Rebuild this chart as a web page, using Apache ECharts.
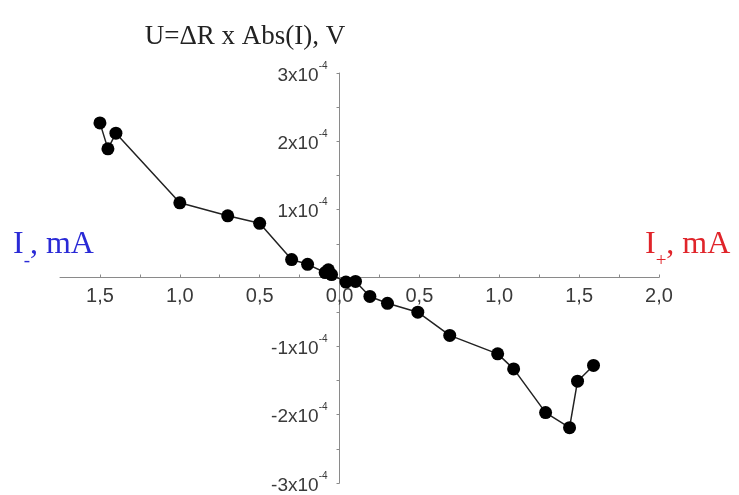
<!DOCTYPE html>
<html>
<head>
<meta charset="utf-8">
<script src="https://cdn.jsdelivr.net/npm/echarts@6/dist/echarts.min.js"></script>
<style>
  html, body { margin: 0; padding: 0; background: #fff; }
  #chart { width: 739px; height: 495px; }
</style>
</head>
<body>
<div id="chart"></div>
<script>
// Current through the sample, mA (negative values are the I- branch, drawn left of zero)
const currentMA = [-1.50, -1.45, -1.40, -1.00, -0.70, -0.50, -0.30, -0.20, -0.09, -0.07, -0.05,
                   0.04, 0.10, 0.19, 0.30, 0.49, 0.69, 0.99, 1.09, 1.29, 1.44, 1.49, 1.59];
// Voltage U = dR x Abs(I), V
const voltageV = [2.27e-4, 1.89e-4, 2.12e-4, 1.10e-4, 0.91e-4, 0.80e-4, 0.27e-4, 0.20e-4, 0.08e-4, 0.12e-4, 0.05e-4,
                  -0.06e-4, -0.05e-4, -0.27e-4, -0.37e-4, -0.50e-4, -0.84e-4, -1.11e-4, -1.33e-4, -1.97e-4, -2.19e-4, -1.51e-4, -1.28e-4];

const xRange = [-1.75, 2.0];
const yRange = [-3e-4, 3e-4];
const yExponent = -4;

const points = currentMA.map((x, i) => [x, voltageV[i]]);

// Plot area and the offsets that put both axes through the origin
const W = 739, H = 495;
const grid = { left: 60, right: 80, top: 73, bottom: 11 };
const plotW = W - grid.left - grid.right;
const plotH = H - grid.top - grid.bottom;
const xZeroOffset = -plotW * (0 - xRange[0]) / (xRange[1] - xRange[0]);
const yZeroOffset = -plotH * (0 - yRange[0]) / (yRange[1] - yRange[0]);

const chart = echarts.init(document.getElementById('chart'), null, { renderer: 'canvas' });

const axisGray = '#8a8a8a';
const labelColor = '#3a3a3a';

function branchLabel(sign, color, left) {
  return {
    type: 'text', left: left, top: 229,
    style: {
      text: '{m|I}{sub|' + sign + '}{m|, mA}',
      rich: {
        m: { fontFamily: 'Liberation Serif', fontSize: 32, fill: color, lineHeight: 42, verticalAlign: 'top' },
        sub: { fontFamily: 'Liberation Serif', fontSize: 19, fill: color, lineHeight: 42, verticalAlign: 'bottom' }
      }
    }
  };
}

chart.setOption({
  animation: false,
  backgroundColor: '#ffffff',
  title: {
    text: 'U=\u0394R x Abs(I), V',
    left: 240,
    textAlign: 'center',
    top: 18,
    textStyle: { fontFamily: 'Liberation Serif', fontSize: 27, fontWeight: 'normal', color: '#222' }
  },
  grid: Object.assign({ containLabel: false }, grid),
  xAxis: {
    type: 'value',
    position: 'bottom',
    offset: yZeroOffset,
    min: xRange[0],
    max: xRange[1],
    interval: 0.25,
    axisLine: { onZero: false, lineStyle: { color: axisGray, width: 1 } },
    axisTick: { show: true, inside: true, length: 3, lineStyle: { color: axisGray } },
    splitLine: { show: false },
    axisLabel: {
      margin: 9,
      fontFamily: 'Liberation Sans',
      fontSize: 20,
      color: labelColor,
      showMinLabel: false,
      formatter: v => {
        const q = Math.round(v * 4);
        if (q % 2 !== 0) return '';
        return Math.abs(v).toFixed(1).replace('.', ',');
      }
    }
  },
  yAxis: {
    type: 'value',
    position: 'left',
    offset: xZeroOffset,
    min: yRange[0],
    max: yRange[1],
    interval: 1e-4,
    axisLine: { onZero: false, lineStyle: { color: axisGray, width: 1 } },
    axisTick: { show: true, length: 3, lineStyle: { color: axisGray } },
    minorTick: { show: true, splitNumber: 2, length: 3, lineStyle: { color: axisGray } },
    splitLine: { show: false },
    axisLabel: {
      margin: 12,
      color: labelColor,
      formatter: v => {
        const n = Math.round(v / Math.pow(10, yExponent));
        if (n === 0) return '';
        return '{b|' + n + 'x10}{s|' + yExponent + '}';
      },
      rich: {
        b: { fontFamily: 'Liberation Sans', fontSize: 19, color: labelColor, lineHeight: 24, verticalAlign: 'bottom' },
        s: { fontFamily: 'Liberation Sans', fontSize: 10, color: labelColor, lineHeight: 24, verticalAlign: 'top' }
      }
    }
  },
  graphic: [
    branchLabel('-', '#2a2ad6', 13),
    branchLabel('+', '#e0242a', 645)
  ],
  series: [{
    type: 'line',
    data: points,
    symbol: 'circle',
    symbolSize: 13,
    itemStyle: { color: '#000' },
    lineStyle: { color: '#222', width: 1.5 },
    z: 3
  }]
});
</script>
</body>
</html>
